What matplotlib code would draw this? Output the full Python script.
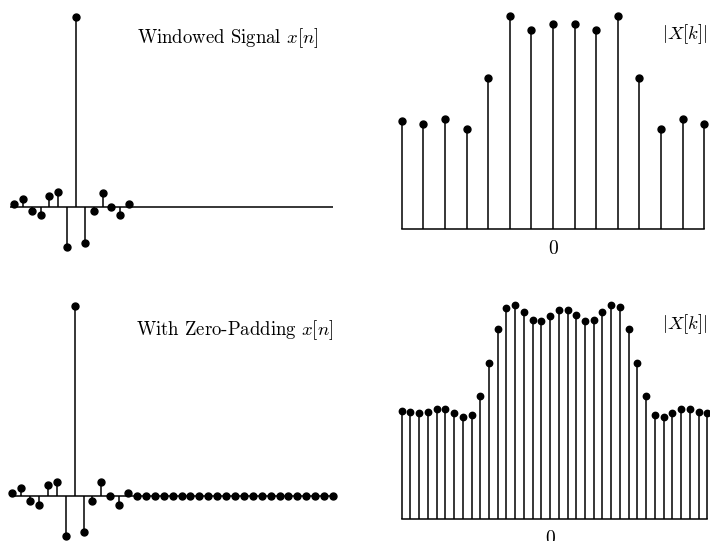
import numpy as np
import matplotlib
matplotlib.use("Agg")
import matplotlib.pyplot as plt

plt.rcParams['font.family'] = 'serif'
plt.rcParams['font.serif'] = ['cmr10']
plt.rcParams['mathtext.fontset'] = 'cm'
plt.rcParams['axes.unicode_minus'] = False

# windowed signal x[n], n = 0..13 (peak normalised to 1)
x_win = [0.014, 0.039, -0.025, -0.046, 0.058, 0.075, -0.21,
         1.0, -0.193, -0.025, 0.074, 0.0, -0.046, 0.012]
n_zeros = 23  # zero-padding samples appended
x_pad = x_win + [0.0] * n_zeros

# |X[k]| for the 15-point view, k = -7..7
k_short = list(range(-7, 8))
mag_short = [0.507, 0.495, 0.515, 0.469, 0.707, 1.0, 0.934, 0.959,
             0.959, 0.934, 1.0, 0.707, 0.469, 0.515, 0.495]

# |X[k]| with zero-padding, k = -17..18
k_long = list(range(-17, 19))
mag_long = [0.507, 0.502, 0.497, 0.499, 0.513, 0.515, 0.495, 0.476, 0.487,
            0.575, 0.731, 0.889, 0.987, 1.0, 0.966, 0.929, 0.925, 0.950,
            0.977, 0.977, 0.953, 0.927, 0.929, 0.966, 1.0, 0.989, 0.889,
            0.731, 0.575, 0.487, 0.476, 0.497, 0.515, 0.513, 0.499, 0.497]

W, H = 710, 541
fig = plt.figure(figsize=(W / 100, H / 100), dpi=100)


def px_axes(left, top, right, bottom):
    return fig.add_axes([left / W, 1 - bottom / H, (right - left) / W, (bottom - top) / H])


def draw_stem(ax, x, y, ms=5, baseline=True):
    markers, stems, base = ax.stem(x, y, linefmt='k-', markerfmt='ko', basefmt='k-')
    markers.set_markersize(ms)
    markers.set_clip_on(False)
    stems.set_linewidth(1.1)
    stems.set_clip_on(False)
    base.set_linewidth(1.1)
    base.set_clip_on(False)
    if not baseline:
        base.set_visible(False)
    for s in ax.spines.values():
        s.set_visible(False)
    ax.set_yticks([])


# top left
ax1 = px_axes(10, 10, 333, 255)
draw_stem(ax1, np.arange(len(x_win)), x_win, baseline=False)
ax1.axhline(0, color='k', lw=1.1)
ax1.set_xlim(-0.45, 36.0)
ax1.set_ylim(-0.254, 1.035)
ax1.set_xticks([])
fig.text(318 / W, 1 - 38 / H, r'Windowed Signal $x[n]$', ha='right', va='center', fontsize=13.5)

# bottom left
ax3 = px_axes(10, 300, 333, 541)
draw_stem(ax3, np.arange(len(x_pad)), x_pad, baseline=False)
ax3.axhline(0, color='k', lw=1.1)
ax3.set_xlim(-0.25, 36.0)
ax3.set_ylim(-0.238, 1.03)
ax3.set_xticks([])
fig.text(333 / W, 1 - 330 / H, r'With Zero-Padding $x[n]$', ha='right', va='center', fontsize=13.5)

# top right (axes bottom sits on the baseline)
ax2 = px_axes(390.9, 5, 714.9, 229.3)
draw_stem(ax2, k_short, mag_short)
ax2.set_xlim(-7.5, 7.5)
ax2.set_ylim(0, 1.05)
ax2.set_xticks([0])
ax2.set_xticklabels(['0'], fontsize=14)
ax2.tick_params(axis='x', length=0, pad=7.5)
fig.text(708 / W, 1 - 34 / H, r'$|X[k]|$', ha='right', va='center', fontsize=13.5)

# bottom right
ax4 = px_axes(397.3, 295, 711.6, 519.3)
draw_stem(ax4, k_long, mag_long, ms=4.6)
ax4.set_xlim(-17.5, 18.5)
ax4.set_ylim(0, 1.047)
ax4.set_xticks([0])
ax4.set_xticklabels(['0'], fontsize=14)
ax4.tick_params(axis='x', length=0, pad=7.5)
fig.text(708 / W, 1 - 324 / H, r'$|X[k]|$', ha='right', va='center', fontsize=13.5)

fig.savefig('out.png', dpi=100)
